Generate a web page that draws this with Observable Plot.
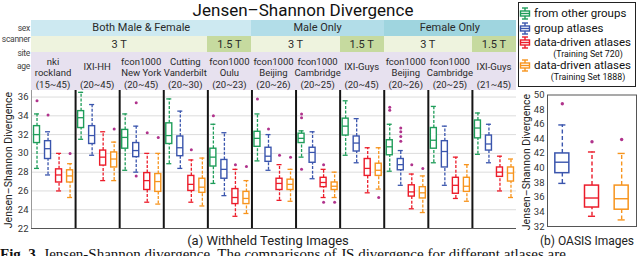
<!DOCTYPE html>
<html><head><meta charset="utf-8">
<script src="https://cdn.jsdelivr.net/npm/d3@7"></script>
<script src="https://cdn.jsdelivr.net/npm/@observablehq/plot@0.6"></script>
<style>
body{margin:0;background:#fff;}
#root{position:relative;width:640px;height:256px;overflow:hidden;font-family:Roboto,sans-serif;color:#222;}
#root svg{position:absolute;left:0;top:0;overflow:visible;}
.cell{position:absolute;display:flex;flex-direction:column;align-items:center;justify-content:center;box-sizing:border-box;white-space:nowrap;}
.t{position:absolute;white-space:nowrap;}
</style></head><body><div id="root"></div>
<script>
// ---------- data ----------
const sites = [["nki","rockland"],["IXI-HH"],["fcon1000","New York"],["Cutting","Vanderbilt"],["fcon1000","Oulu"],
  ["fcon1000","Beijing"],["fcon1000","Cambridge"],["IXI-Guys"],["fcon1000","Beijing"],["fcon1000","Cambridge"],["IXI-Guys"]];
const ages = ["(15~45)","(20~45)","(20~45)","(20~30)","(20~23)","(20~26)","(20~25)","(20~45)","(20~26)","(20~25)","(21~45)"];
const sexLabels = ["Both Male & Female","Male Only","Female Only"];
const sexSpans = [5,3,3];
const scannerLabels = ["3 T","1.5 T","3 T","1.5 T","3 T","1.5 T"];
const scannerSpans = [4,1,2,1,2,1];
const rowLabels = ["sex","scanner","site","age"];
const seriesNames = ["from other groups","group atlases","data-driven atlases","data-driven atlases"];
const seriesNotes = ["","","(Training Set 720)","(Training Set 1888)"];
// each entry: [lower whisker, q1, median, q3, upper whisker]
const otherGroups = [[28.4,31.1,32.0,32.9,34.2],[31.5,32.7,33.8,34.5,36.5],[28.2,30.5,31.7,32.5,34.2],[28.9,31.0,31.9,33.2,35.8],
  [26.8,28.6,29.6,30.5,33.1],[29.2,30.7,31.6,32.3,34.2],[29.6,31.1,31.6,32.1,32.4],[29.8,31.9,32.9,33.7,35.6],
  [28.1,29.8,30.7,31.4,33.1],[29.0,30.5,31.4,32.7,35.0],[29.9,31.6,32.7,33.5,34.3]];
const groupAtlases = [[27.7,29.4,30.5,31.3,32.3],[29.8,31.0,31.9,32.9,35.2],[28.0,29.6,30.3,31.1,32.9],[28.4,29.7,30.6,31.8,34.5],
  [25.5,27.3,28.3,29.3,32.2],[28.2,29.1,29.7,30.6,32.0],[27.3,29.0,30.1,30.6,32.3],[29.0,30.2,31.1,31.8,33.7],
  [26.6,28.2,28.8,29.4,30.3],[26.6,28.5,30.2,31.3,32.9],[29.0,30.3,31.0,31.9,33.1]];
const dd720 = [[26.0,26.9,27.7,28.3,30.0],[27.1,28.7,29.6,30.3,32.3],[24.8,26.1,27.1,27.9,30.0],[24.8,26.0,26.7,27.6,29.3],
  [23.3,24.6,25.3,26.2,28.3],[25.0,26.1,26.8,27.3,28.8],[25.3,26.4,26.9,27.4,28.3],[25.8,27.6,28.4,29.4,30.6],
  [24.1,25.4,25.9,26.6,27.8],[25.2,25.7,26.6,27.4,29.6],[26.0,27.5,28.0,28.5,29.7]];
const dd1888 = [[25.3,26.9,27.6,28.2,28.9],[27.1,28.5,29.4,30.1,31.2],[24.6,25.9,27.0,27.8,30.0],[24.4,25.8,26.4,27.3,29.5],
  [23.6,24.6,25.2,25.9,27.1],[24.9,26.1,26.7,27.2,28.3],[25.3,26.1,26.5,26.9,28.0],[26.2,27.6,28.2,28.9,30.6],
  [23.7,25.2,25.8,26.4,27.6],[24.9,25.9,26.5,27.4,28.8],[25.3,27.0,27.9,28.5,29.4]];
const otherGroupsOut = [[35.6],[],[],[],[34.0],[35.8],[34.2,33.8,28.3],[],[34.9,34.6],[],[]];
const groupAtlasesOut = [[34.1],[],[35.4,27.6],[],[],[32.6],[],[],[32.7,32.3,31.8,31.3],[],[]];
const dd720Out = [[],[],[32.2],[30.4],[28.8],[29.8],[28.8,24.8],[],[28.8],[],[]];
const dd1888Out = [[30.0],[32.6],[31.7],[],[28.6],[29.6],[24.8],[25.3],[28.4],[],[]];
const yTicksA = [22,24,26,28,30,32,34,36];
// OASIS panel: group atlases, data-driven 720, data-driven 1888
const oasisSeries = [1,2,3];
const oasisStats = [[37.9,39.3,40.8,42.0,45.9],[33.4,34.6,35.9,37.6,42.2],[32.9,34.3,35.8,37.6,42.0]];
const oasisOut = [[48.8],[43.6],[43.9]];
const yTicksB = [32,34,36,38,40,42,44,46,48,50];

// ---------- styles ----------
const seriesColors = ["#1f9d5a","#3a55ad","#ec1c2a","#f7941d"];
const outlierColor = "#b0338c";
const sexColors = ["#cde9f1","#b2dde8","#9fd5df"];
const scannerColor = l => l === "3 T" ? "#eef3de" : "#c6da9f";
const siteColor = "#e7e1ef";

const root = document.getElementById("root");
function addText(txt, css) { const d = document.createElement("div"); d.className = "t"; d.textContent = txt; Object.assign(d.style, css); root.appendChild(d); return d; }

// ---------- build rows ----------
const statsBySeries = [otherGroups, groupAtlases, dd720, dd1888];
const outBySeries = [otherGroupsOut, groupAtlasesOut, dd720Out, dd1888Out];
const rows = [], outs = [];
statsBySeries.forEach((arr, s) => arr.forEach((st, g) => rows.push({s, g, pos: g + (s + 0.5) / 4, lo: st[0], q1: st[1], med: st[2], q3: st[3], hi: st[4]})));
outBySeries.forEach((arr, s) => arr.forEach((vs, g) => vs.forEach(v => outs.push({s, g, pos: g + (s + 0.5) / 4, v}))));
const hw = 0.068, cw = 0.057;
const dash = "3,1.6";

const main = Plot.plot({
  width: 520, height: 232, marginTop: 89.5, marginBottom: 4, marginLeft: 31, marginRight: 4,
  x: {domain: [0, 11], axis: null},
  y: {domain: [22, 36.75], ticks: yTicksA, tickSize: 0, tickPadding: 3, label: null},
  color: {domain: [0, 1, 2, 3], range: seriesColors},
  style: {fontFamily: "Roboto, sans-serif", fontSize: "9.5px", color: "#333", background: "transparent"},
  marks: [
    Plot.ruleY(yTicksA.slice(1), {stroke: "#dcdcdc", strokeWidth: 1}),
    Plot.ruleY([22], {stroke: "#555"}),
    Plot.ruleX([0], {stroke: "#999"}),
    Plot.ruleX(d3.range(1, 11), {stroke: "#151515", strokeWidth: 2}),
    Plot.ruleX(rows, {x: "pos", y1: "q3", y2: "hi", stroke: "s", strokeWidth: 1.3, strokeDasharray: dash}),
    Plot.ruleX(rows, {x: "pos", y1: "lo", y2: "q1", stroke: "s", strokeWidth: 1.3, strokeDasharray: dash}),
    Plot.rect(rows, {x1: d => d.pos - hw, x2: d => d.pos + hw, y1: "q1", y2: "q3", stroke: "s", fill: "white", strokeWidth: 1.4}),
    Plot.ruleY(rows, {y: "med", x1: d => d.pos - hw, x2: d => d.pos + hw, stroke: "s", strokeWidth: 1.3}),
    Plot.ruleY(rows, {y: "hi", x1: d => d.pos - cw, x2: d => d.pos + cw, stroke: "s", strokeWidth: 1.3}),
    Plot.ruleY(rows, {y: "lo", x1: d => d.pos - cw, x2: d => d.pos + cw, stroke: "s", strokeWidth: 1.3}),
    Plot.dot(outs, {x: "pos", y: "v", r: 1.5, fill: outlierColor, stroke: null})
  ]
});
root.appendChild(main);
const xs = main.scale("x");

// ---------- header ----------
function cellBox(g0, g1, top, h, bg) {
  const d = document.createElement("div"); d.className = "cell";
  const l = xs.apply(g0), r = xs.apply(g1);
  Object.assign(d.style, {left: l + "px", width: (r - l) + "px", top: top + "px", height: h + "px", background: bg});
  root.appendChild(d); return d;
}
let acc = 0;
sexLabels.forEach((lab, i) => {
  const d = cellBox(acc, acc + sexSpans[i], 19.5, 16.5, sexColors[i]);
  d.textContent = lab; Object.assign(d.style, {fontSize: "11px", color: "#2a2a2a"});
  acc += sexSpans[i];
});
acc = 0;
scannerLabels.forEach((lab, i) => {
  const d = cellBox(acc, acc + scannerSpans[i], 36, 16, scannerColor(lab));
  d.textContent = lab; Object.assign(d.style, {fontSize: "11px", color: "#2a2a2a"});
  acc += scannerSpans[i];
});
cellBox(0, 11, 52, 37.5, siteColor);
sites.forEach((lines, g) => {
  const d = cellBox(g, g + 1, 55, 23, "transparent");
  Object.assign(d.style, {fontSize: "9.5px", lineHeight: "11px", color: "#2a2a2a"});
  lines.forEach(t => { const s = document.createElement("div"); s.textContent = t; d.appendChild(s); });
  const a = cellBox(g, g + 1, 79, 11, "transparent");
  a.textContent = ages[g]; Object.assign(a.style, {fontSize: "9.5px", color: "#2a2a2a"});
});
const rowLabelY = [27.5, 39, 53, 66];
rowLabels.forEach((t, i) => addText(t, {right: (640 - 30) + "px", top: (rowLabelY[i] - 6) + "px", fontSize: "8.5px", color: "#444", lineHeight: "12px", letterSpacing: "-0.3px"}));

// title
addText("Jensen\u2013Shannon Divergence", {left: "303px", top: "0px", transform: "translateX(-50%)", fontSize: "17px", lineHeight: "20px", color: "#111"});
// y labels
addText("Jensen\u2013Shannon Divergence", {left: "8px", top: "160px", transform: "translate(-50%,-50%) rotate(-90deg)", fontSize: "10.5px", color: "#222"});
addText("Jensen\u2013Shannon Divergence", {left: "526px", top: "162px", transform: "translate(-50%,-50%) rotate(-90deg)", fontSize: "10.5px", color: "#222"});

// ---------- OASIS panel ----------
const orows = oasisStats.map((st, i) => ({s: oasisSeries[i], pos: i + 0.5, lo: st[0], q1: st[1], med: st[2], q3: st[3], hi: st[4]}));
const oouts = oasisOut.flatMap((vs, i) => vs.map(v => ({s: oasisSeries[i], pos: i + 0.5, v})));
const bhw = 0.236, bcw = 0.12;
const oasis = Plot.plot({
  width: 640, height: 230, marginTop: 94.5, marginBottom: 4, marginLeft: 547, marginRight: 4,
  x: {domain: [0, 3], axis: null},
  y: {domain: [32, 50], ticks: yTicksB, tickSize: 0, tickPadding: 3, label: null},
  color: {domain: [0, 1, 2, 3], range: seriesColors},
  style: {fontFamily: "Roboto, sans-serif", fontSize: "9.5px", color: "#333", background: "transparent"},
  marks: [
    Plot.frame({stroke: "#555"}),
    Plot.ruleX(orows, {x: "pos", y1: "q3", y2: "hi", stroke: "s", strokeWidth: 1.4, strokeDasharray: "4,2.5"}),
    Plot.ruleX(orows, {x: "pos", y1: "lo", y2: "q1", stroke: "s", strokeWidth: 1.4, strokeDasharray: "4,2.5"}),
    Plot.rect(orows, {x1: d => d.pos - bhw, x2: d => d.pos + bhw, y1: "q1", y2: "q3", stroke: "s", fill: "white", strokeWidth: 1.5}),
    Plot.ruleY(orows, {y: "med", x1: d => d.pos - bhw, x2: d => d.pos + bhw, stroke: "s", strokeWidth: 1.4}),
    Plot.ruleY(orows, {y: "hi", x1: d => d.pos - bcw, x2: d => d.pos + bcw, stroke: "s", strokeWidth: 1.4}),
    Plot.ruleY(orows, {y: "lo", x1: d => d.pos - bcw, x2: d => d.pos + bcw, stroke: "s", strokeWidth: 1.4}),
    Plot.dot(oouts, {x: "pos", y: "v", r: 1.7, fill: outlierColor, stroke: null})
  ]
});
root.appendChild(oasis);

// ---------- legend ----------
const leg = document.createElement("div");
Object.assign(leg.style, {position: "absolute", left: "518px", top: "2px", width: "118px", height: "85px", border: "1.5px solid #222", boxSizing: "border-box", background: "transparent"});
root.appendChild(leg);
const legY = [13, 28, 42, 65];
seriesNames.forEach((name, i) => {
  const c = seriesColors[i];
  const ns = "http://www.w3.org/2000/svg";
  const ic = document.createElementNS(ns, "svg");
  ic.setAttribute("width", 12); ic.setAttribute("height", 13);
  ic.style.cssText = `position:absolute;left:519px;top:${legY[i] - 6.5}px;`;
  ic.innerHTML = `<g stroke="${c}" stroke-width="1.4" fill="none"><line x1="3" x2="9" y1="1" y2="1"/><line x1="6" x2="6" y1="1" y2="4"/><rect x="1.5" y="4" width="9" height="5"/><line x1="1.5" x2="10.5" y1="6.5" y2="6.5"/><line x1="6" x2="6" y1="9" y2="12"/><line x1="3" x2="9" y1="12" y2="12"/></g>`;
  root.appendChild(ic);
  addText(name, {left: "534px", top: (legY[i] - 6) + "px", fontSize: "11.5px", lineHeight: "12px", color: "#111"});
  if (seriesNotes[i]) addText(seriesNotes[i], {left: "588px", top: (legY[i] + 6.5) + "px", transform: "translateX(-50%)", fontSize: "8.8px", lineHeight: "10px", color: "#111"});
});

// ---------- captions ----------
addText("(a) Withheld Testing Images", {left: "268px", top: "234.5px", transform: "translateX(-50%)", fontSize: "13px", lineHeight: "12px", color: "#222"});
addText("(b) OASIS Images", {left: "587px", top: "234.5px", transform: "translateX(-50%)", fontSize: "12px", lineHeight: "12px", color: "#222"});
const fig = addText("", {left: "0px", top: "249px", fontFamily: "'Liberation Serif', serif", fontSize: "15px", lineHeight: "11px", color: "#111"});
fig.innerHTML = "<b>Fig. 3.</b> Jensen-Shannon divergence. The comparisons of JS divergence for different atlases are";
</script></body></html>
